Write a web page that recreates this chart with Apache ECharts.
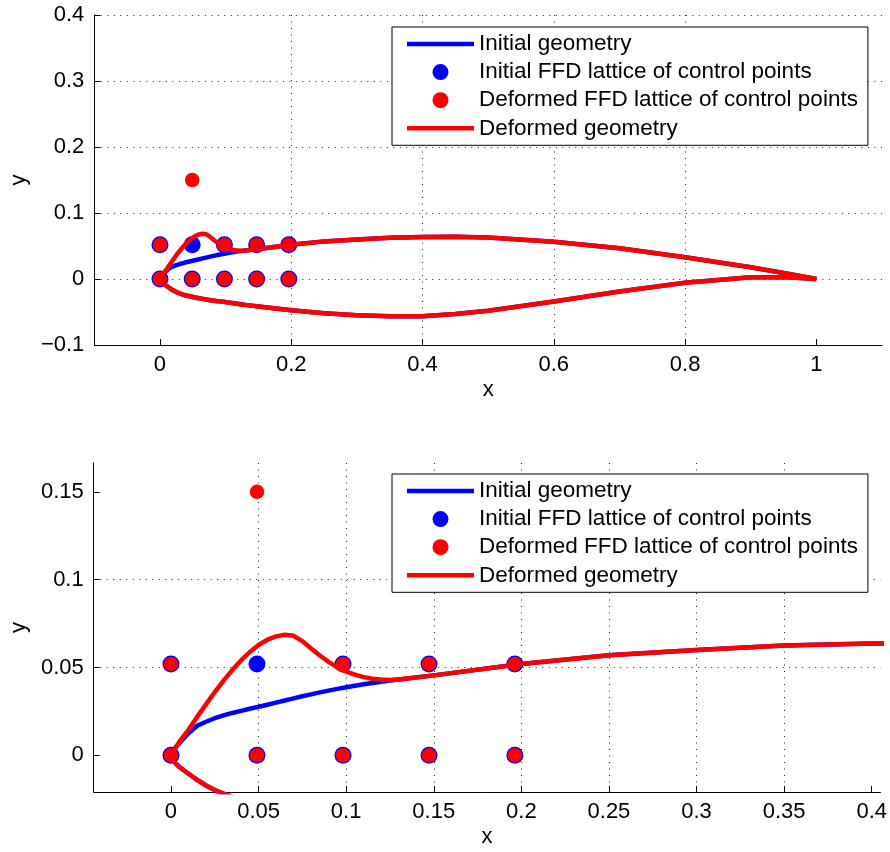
<!DOCTYPE html>
<html>
<head>
<meta charset="utf-8">
<script src="https://cdn.jsdelivr.net/npm/echarts@6/dist/echarts.min.js"></script>
<style>
  html, body { margin: 0; padding: 0; background: #fff; }
  #chart { width: 890px; height: 852px; }
</style>
</head>
<body>
<div id="chart"></div>
<script>
// airfoil stations (chordwise x) and surface heights
const stationX = [0, 0.0025, 0.005, 0.01, 0.015, 0.02, 0.025, 0.03, 0.035, 0.04, 0.045, 0.05, 0.055, 0.06, 0.065,
  0.07, 0.075, 0.08, 0.085, 0.09, 0.095, 0.1, 0.105, 0.11, 0.115, 0.12, 0.125, 0.13, 0.15, 0.2, 0.25, 0.3, 0.35,
  0.4, 0.45, 0.5, 0.6, 0.7, 0.8, 0.9, 0.95, 1.0];
const upperInitial = [0, 0.0042, 0.0072, 0.0125, 0.0168, 0.0191, 0.0211, 0.0227, 0.0241, 0.0253, 0.0265, 0.0276, 0.0288, 0.03, 0.0312,
  0.0324, 0.0336, 0.0347, 0.0358, 0.0368, 0.0378, 0.0387, 0.0396, 0.0404, 0.0412, 0.0419, 0.0426, 0.0432, 0.0455, 0.052, 0.057, 0.060, 0.0625,
  0.0636, 0.064, 0.063, 0.0566, 0.0465, 0.033, 0.0177, 0.0092, 0];
const upperDeformed = [0, 0.0042, 0.008, 0.0145, 0.022, 0.029, 0.036, 0.0425, 0.0485, 0.054, 0.0588, 0.0628, 0.0658, 0.0677, 0.0686,
  0.068, 0.065, 0.0608, 0.0568, 0.0532, 0.05, 0.0476, 0.0459, 0.0445, 0.0436, 0.0431, 0.0428, 0.0432, 0.0455, 0.052, 0.057, 0.060, 0.0625,
  0.0636, 0.064, 0.063, 0.0566, 0.0465, 0.033, 0.0177, 0.0092, 0];
const lowerSurface = [0, -0.0045, -0.0068, -0.0105, -0.014, -0.0172, -0.0198, -0.0218, -0.0236, -0.025, -0.0262, -0.0273, -0.0283, -0.0292, -0.0301,
  -0.031, -0.0318, -0.0326, -0.0333, -0.0339, -0.0345, -0.035, -0.0358, -0.0365, -0.0372, -0.0379, -0.0386, -0.0392, -0.0415, -0.0475, -0.052, -0.055, -0.0565,
  -0.0565, -0.053, -0.048, -0.034, -0.019, -0.0056, 0.0025, 0.003, 0];

// FFD lattice
const latticeX = [0, 0.0491, 0.0982, 0.1473, 0.1963];
const latticeTopInitial = [0.052, 0.052, 0.052, 0.052, 0.052];
const latticeTopDeformed = [0.052, 0.15, 0.052, 0.052, 0.052];
const latticeBottom = [0, 0, 0, 0, 0];

// tick labels
const topXTicks = [0, 0.2, 0.4, 0.6, 0.8, 1];
const topYTicks = [-0.1, 0, 0.1, 0.2, 0.3, 0.4];
const zoomXTicks = [0, 0.05, 0.1, 0.15, 0.2, 0.25, 0.3, 0.35, 0.4];
const zoomYTicks = [0, 0.05, 0.1, 0.15];

const BLUE = '#0000ff';
const RED = '#ff0000';
const FONT = 'Liberation Sans, Arial, sans-serif';
const LINE_ICON = 'path://M0,0h67v4.5h-67z';

function outline(upper) {
  let pts = [];
  for (let i = stationX.length - 1; i >= 0; i--) pts.push([stationX[i], upper[i]]);
  for (let i = 1; i < stationX.length; i++) pts.push([stationX[i], lowerSurface[i]]);
  return pts;
}
function lattice(top) {
  let pts = [];
  latticeX.forEach((x, i) => { pts.push([x, top[i]]); pts.push([x, latticeBottom[i]]); });
  return pts;
}

const initialGeometry = outline(upperInitial);
const deformedGeometry = outline(upperDeformed);
const initialLattice = lattice(latticeTopInitial);
const deformedLattice = lattice(latticeTopDeformed);

let fmt = (v) => String(Math.round(v * 10000) / 10000).replace('-', '\u2212');

function xAxisFor(gi, min, max, split, ticks) {
  return {
    type: 'value', gridIndex: gi, min: min, max: max, splitNumber: split,
    name: 'x', nameLocation: 'middle', nameGap: 34,
    nameTextStyle: { fontSize: 22, color: '#000', fontFamily: FONT },
    axisLine: { onZero: false, lineStyle: { color: '#000', width: 1 } },
    axisTick: { inside: true, length: 6, customValues: ticks, lineStyle: { color: '#000' } },
    axisLabel: { customValues: ticks, formatter: fmt, fontSize: 22, color: '#000', margin: 9, fontFamily: FONT },
    splitLine: { show: true, showMinLine: false, showMaxLine: false, lineStyle: { type: [1, 5.5], color: '#222', width: 1 } }
  };
}
function yAxisFor(gi, min, max, split, ticks, maxLine) {
  return {
    type: 'value', gridIndex: gi, min: min, max: max, splitNumber: split,
    name: 'y', nameLocation: 'middle', nameGap: 62, nameRotate: 90,
    nameTextStyle: { fontSize: 22, color: '#000', fontFamily: FONT },
    axisLine: { onZero: false, lineStyle: { color: '#000', width: 1 } },
    axisTick: { inside: true, length: 6, customValues: ticks, lineStyle: { color: '#000' } },
    axisLabel: { customValues: ticks, formatter: fmt, fontSize: 22, color: '#000', margin: 10, fontFamily: FONT },
    splitLine: { show: true, showMinLine: false, showMaxLine: maxLine, lineStyle: { type: [1, 5.5], color: '#222', width: 1 } }
  };
}

function seriesFor(gi) {
  return [
    { name: 'Initial geometry', type: 'line', xAxisIndex: gi, yAxisIndex: gi, data: initialGeometry,
      symbol: 'none', lineStyle: { color: BLUE, width: 4.5, join: 'round' }, itemStyle: { color: BLUE } },
    { name: 'Initial FFD lattice of control points', type: 'scatter', xAxisIndex: gi, yAxisIndex: gi,
      data: initialLattice, symbolSize: 17, itemStyle: { color: BLUE, opacity: 1 } },
    { name: 'Deformed FFD lattice of control points', type: 'scatter', xAxisIndex: gi, yAxisIndex: gi,
      data: deformedLattice, symbolSize: 14.5, itemStyle: { color: RED, opacity: 1 } },
    { name: 'Deformed geometry', type: 'line', xAxisIndex: gi, yAxisIndex: gi, data: deformedGeometry,
      symbol: 'none', lineStyle: { color: RED, width: 4.5, join: 'round' }, itemStyle: { color: RED } }
  ];
}

function legendFor(top) {
  return {
    orient: 'vertical', left: 392, top: top,
    padding: [5, 10, 5, 15], itemGap: 4.1, itemWidth: 67, itemHeight: 16,
    backgroundColor: '#fff', borderColor: '#000', borderWidth: 1, borderRadius: 0,
    textStyle: { fontSize: 22.5, lineHeight: 24, color: '#000', fontFamily: FONT },
    selectedMode: false,
    data: [
      { name: 'Initial geometry', icon: LINE_ICON },
      { name: 'Initial FFD lattice of control points', icon: 'circle' },
      { name: 'Deformed FFD lattice of control points', icon: 'circle' },
      { name: 'Deformed geometry', icon: LINE_ICON }
    ]
  };
}

let chart = echarts.init(document.getElementById('chart'));
chart.setOption({
  animation: false,
  backgroundColor: '#fff',
  textStyle: { fontFamily: FONT },
  grid: [
    { left: 92, top: 15, width: 790, height: 330 },
    { left: 92, top: 463, width: 790, height: 329 }
  ],
  xAxis: [
    xAxisFor(0, -0.1, 1.1, 6, topXTicks),
    xAxisFor(1, -0.0441, 0.405, 9, zoomXTicks)
  ],
  yAxis: [
    yAxisFor(0, -0.1, 0.4, 5, topYTicks, true),
    yAxisFor(1, -0.0209, 0.1664, 4, zoomYTicks, false)
  ],
  legend: [legendFor(27), legendFor(474)],
  series: [...seriesFor(0), ...seriesFor(1)]
});
</script>
</body>
</html>
